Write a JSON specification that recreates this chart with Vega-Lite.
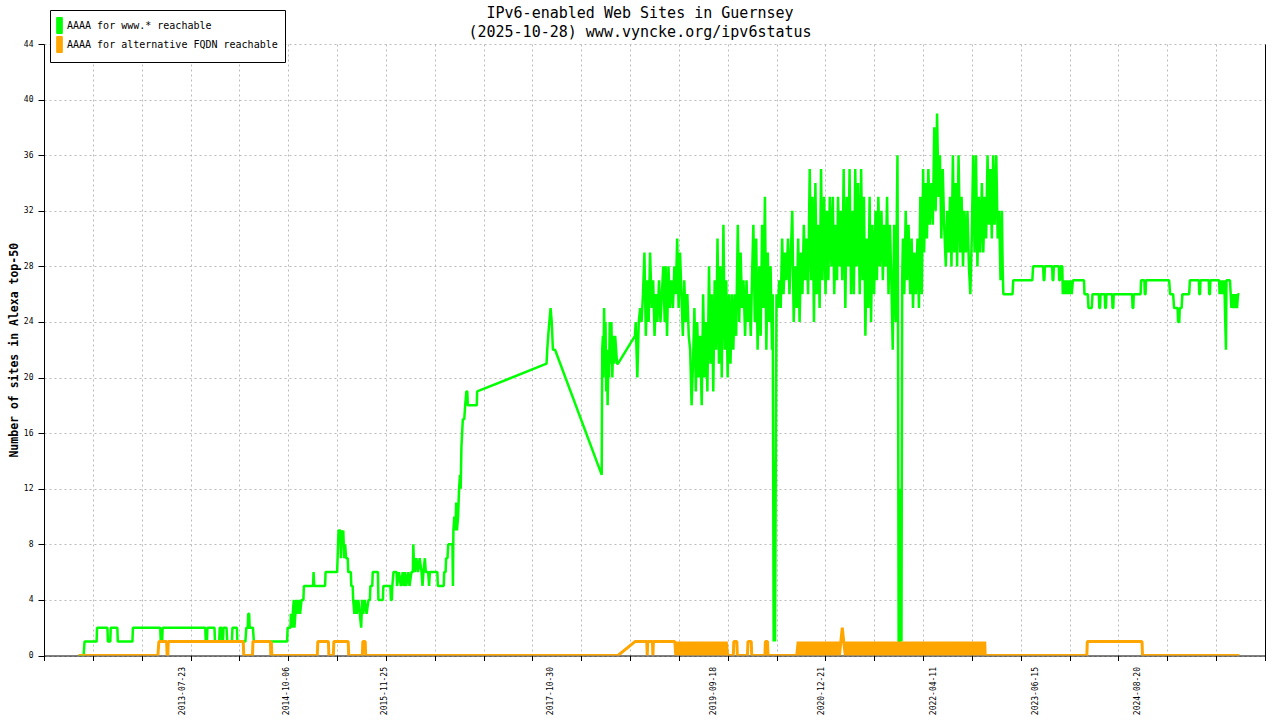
{
"$schema":"https://vega.github.io/schema/vega-lite/v6.json",
"width":1221,"height":611.5,"autosize":"none",
"padding":{"left":44,"top":44,"right":15,"bottom":64.5},
"background":"white",
"title":{"text":["IPv6-enabled Web Sites in Guernsey","(2025-10-28) www.vyncke.org/ipv6status"],"font":"DejaVu Sans Mono","fontSize":15,"fontWeight":"normal","color":"black","anchor":"middle","dx":-14.5,"dy":36,"offset":6,"lineHeight":19},
"config":{"font":"DejaVu Sans Mono","view":{"stroke":null}},
"datasets":{
"www":[
{"d":"2012-05-07","v":0},{"d":"2012-05-28","v":0},{"d":"2012-06-01","v":1},{"d":"2012-07-22","v":1},{"d":"2012-07-24","v":2},{"d":"2012-09-06","v":2},{"d":"2012-09-08","v":1},{"d":"2012-09-18","v":1},{"d":"2012-09-20","v":2},{"d":"2012-10-18","v":2},{"d":"2012-10-20","v":1},{"d":"2012-12-21","v":1},{"d":"2012-12-23","v":2},{"d":"2013-04-18","v":2},{"d":"2013-04-20","v":1},{"d":"2013-04-26","v":1},{"d":"2013-04-28","v":2},{"d":"2013-10-26","v":2},{"d":"2013-10-28","v":1},{"d":"2013-11-02","v":1},{"d":"2013-11-04","v":2},{"d":"2013-12-04","v":2},{"d":"2013-12-06","v":1},{"d":"2013-12-24","v":1},{"d":"2013-12-26","v":2},{"d":"2014-01-03","v":2},{"d":"2014-01-05","v":1},{"d":"2014-01-09","v":1},{"d":"2014-01-11","v":2},{"d":"2014-01-24","v":2},{"d":"2014-01-27","v":1},{"d":"2014-02-16","v":1},{"d":"2014-02-18","v":2},{"d":"2014-03-09","v":2},{"d":"2014-03-11","v":1},{"d":"2014-04-14","v":1},{"d":"2014-04-18","v":2},{"d":"2014-04-24","v":2},{"d":"2014-04-26","v":3},{"d":"2014-04-30","v":3},{"d":"2014-05-02","v":2},{"d":"2014-05-16","v":2},{"d":"2014-05-20","v":1},{"d":"2014-10-08","v":1},{"d":"2014-10-10","v":2},{"d":"2014-10-22","v":2},{"d":"2014-10-24","v":3},{"d":"2014-10-28","v":2},{"d":"2014-11-01","v":3},{"d":"2014-11-05","v":4},{"d":"2014-11-08","v":2},{"d":"2014-11-12","v":3},{"d":"2014-11-16","v":4},{"d":"2014-11-20","v":3},{"d":"2014-11-26","v":4},{"d":"2014-12-02","v":3},{"d":"2014-12-08","v":4},{"d":"2014-12-16","v":4},{"d":"2014-12-18","v":5},{"d":"2015-01-26","v":5},{"d":"2015-01-28","v":6},{"d":"2015-01-31","v":5},{"d":"2015-03-18","v":5},{"d":"2015-03-20","v":6},{"d":"2015-05-08","v":6},{"d":"2015-05-10","v":7},{"d":"2015-05-12","v":8},{"d":"2015-05-14","v":9},{"d":"2015-05-22","v":9},{"d":"2015-05-24","v":7},{"d":"2015-05-27","v":9},{"d":"2015-05-30","v":8},{"d":"2015-06-03","v":9},{"d":"2015-06-07","v":7},{"d":"2015-06-11","v":8},{"d":"2015-06-15","v":7},{"d":"2015-06-22","v":7},{"d":"2015-06-24","v":6},{"d":"2015-07-05","v":6},{"d":"2015-07-07","v":5},{"d":"2015-07-13","v":5},{"d":"2015-07-15","v":4},{"d":"2015-07-20","v":3},{"d":"2015-07-25","v":4},{"d":"2015-07-30","v":3},{"d":"2015-08-06","v":4},{"d":"2015-08-12","v":3},{"d":"2015-08-18","v":2},{"d":"2015-08-22","v":4},{"d":"2015-08-27","v":3},{"d":"2015-09-02","v":4},{"d":"2015-09-10","v":3},{"d":"2015-09-18","v":4},{"d":"2015-09-24","v":4},{"d":"2015-09-26","v":5},{"d":"2015-10-04","v":5},{"d":"2015-10-06","v":6},{"d":"2015-10-28","v":6},{"d":"2015-10-30","v":4},{"d":"2015-11-18","v":4},{"d":"2015-11-20","v":5},{"d":"2015-12-20","v":5},{"d":"2015-12-22","v":4},{"d":"2015-12-26","v":4},{"d":"2015-12-28","v":5},{"d":"2016-01-02","v":6},{"d":"2016-01-15","v":6},{"d":"2016-01-17","v":5},{"d":"2016-01-25","v":6},{"d":"2016-02-02","v":5},{"d":"2016-02-10","v":6},{"d":"2016-02-14","v":5},{"d":"2016-02-20","v":6},{"d":"2016-02-25","v":5},{"d":"2016-03-05","v":6},{"d":"2016-03-10","v":5},{"d":"2016-03-18","v":6},{"d":"2016-03-24","v":6},{"d":"2016-03-26","v":8},{"d":"2016-03-28","v":7},{"d":"2016-04-02","v":6},{"d":"2016-04-08","v":7},{"d":"2016-04-15","v":6},{"d":"2016-04-22","v":7},{"d":"2016-04-30","v":6},{"d":"2016-05-04","v":5},{"d":"2016-05-08","v":6},{"d":"2016-05-14","v":7},{"d":"2016-05-18","v":6},{"d":"2016-05-28","v":6},{"d":"2016-06-01","v":5},{"d":"2016-06-04","v":6},{"d":"2016-07-06","v":6},{"d":"2016-07-08","v":5},{"d":"2016-08-02","v":5},{"d":"2016-08-04","v":6},{"d":"2016-08-10","v":6},{"d":"2016-08-12","v":7},{"d":"2016-08-18","v":7},{"d":"2016-08-21","v":8},{"d":"2016-09-08","v":8},{"d":"2016-09-10","v":5},{"d":"2016-09-12","v":9},{"d":"2016-09-16","v":10},{"d":"2016-09-20","v":9},{"d":"2016-09-24","v":11},{"d":"2016-09-27","v":9},{"d":"2016-10-02","v":10},{"d":"2016-10-06","v":12},{"d":"2016-10-10","v":13},{"d":"2016-10-13","v":12},{"d":"2016-10-16","v":15},{"d":"2016-10-19","v":16},{"d":"2016-10-22","v":17},{"d":"2016-10-28","v":17},{"d":"2016-11-01","v":18},{"d":"2016-11-06","v":19},{"d":"2016-11-10","v":19},{"d":"2016-11-12","v":18},{"d":"2016-12-20","v":18},{"d":"2016-12-22","v":19},{"d":"2017-10-12","v":21},{"d":"2017-10-15","v":22},{"d":"2017-10-19","v":23},{"d":"2017-10-24","v":24},{"d":"2017-10-29","v":25},{"d":"2017-11-03","v":24},{"d":"2017-11-08","v":22},{"d":"2017-11-12","v":22},{"d":"2017-11-17","v":22},{"d":"2018-06-03","v":13},
{"d":"2018-06-05","v":22},{"d":"2018-06-08","v":23},{"d":"2018-06-10","v":20},{"d":"2018-06-13","v":25},{"d":"2018-06-16","v":21},{"d":"2018-06-19","v":24},{"d":"2018-06-22","v":19},{"d":"2018-06-25","v":22},{"d":"2018-06-28","v":18},{"d":"2018-07-01","v":21},{"d":"2018-07-04","v":20},{"d":"2018-07-07","v":24},{"d":"2018-07-10","v":21},{"d":"2018-07-14","v":24},{"d":"2018-07-18","v":20},{"d":"2018-07-22","v":23},{"d":"2018-07-26","v":21},{"d":"2018-07-30","v":23},{"d":"2018-08-03","v":22},{"d":"2018-08-07","v":21},{"d":"2018-08-11","v":21},{"d":"2018-10-22","v":23},{"d":"2018-10-25","v":24},
{"d":"2018-11-01","v":20},{"d":"2018-11-07","v":24},{"d":"2018-11-13","v":25},{"d":"2018-11-19","v":24},{"d":"2018-11-25","v":26},
{"d":"2018-12-01","v":29},{"d":"2018-12-07","v":23},{"d":"2018-12-13","v":27},{"d":"2018-12-19","v":24},{"d":"2018-12-25","v":29},
{"d":"2019-01-01","v":25},{"d":"2019-01-07","v":27},{"d":"2019-01-13","v":23},{"d":"2019-01-19","v":26},{"d":"2019-01-25","v":24},
{"d":"2019-02-01","v":27},{"d":"2019-02-07","v":24},{"d":"2019-02-13","v":26},{"d":"2019-02-19","v":28},{"d":"2019-02-25","v":24},
{"d":"2019-03-01","v":28},{"d":"2019-03-07","v":23},{"d":"2019-03-13","v":28},{"d":"2019-03-19","v":25},{"d":"2019-03-25","v":27},
{"d":"2019-04-01","v":25},{"d":"2019-04-07","v":28},{"d":"2019-04-13","v":26},{"d":"2019-04-19","v":30},{"d":"2019-04-25","v":25},
{"d":"2019-05-01","v":29},{"d":"2019-05-07","v":26},{"d":"2019-05-13","v":23},{"d":"2019-05-19","v":27},{"d":"2019-05-25","v":24},
{"d":"2019-06-01","v":26},{"d":"2019-06-07","v":23},{"d":"2019-06-13","v":22},{"d":"2019-06-19","v":18},{"d":"2019-06-25","v":21},
{"d":"2019-07-01","v":25},{"d":"2019-07-07","v":19},{"d":"2019-07-13","v":24},{"d":"2019-07-19","v":20},{"d":"2019-07-25","v":23},
{"d":"2019-08-01","v":18},{"d":"2019-08-07","v":26},{"d":"2019-08-13","v":20},{"d":"2019-08-19","v":24},{"d":"2019-08-25","v":19},
{"d":"2019-09-01","v":28},{"d":"2019-09-07","v":21},{"d":"2019-09-13","v":26},{"d":"2019-09-19","v":19},{"d":"2019-09-25","v":27},
{"d":"2019-10-01","v":22},{"d":"2019-10-07","v":30},{"d":"2019-10-13","v":21},{"d":"2019-10-19","v":28},{"d":"2019-10-25","v":20},
{"d":"2019-11-01","v":31},{"d":"2019-11-07","v":22},{"d":"2019-11-13","v":27},{"d":"2019-11-19","v":20},{"d":"2019-11-25","v":26},
{"d":"2019-12-01","v":21},{"d":"2019-12-07","v":26},{"d":"2019-12-13","v":22},{"d":"2019-12-19","v":26},{"d":"2019-12-25","v":23},
{"d":"2020-01-01","v":31},{"d":"2020-01-07","v":24},{"d":"2020-01-13","v":29},{"d":"2020-01-19","v":25},{"d":"2020-01-25","v":27},
{"d":"2020-02-01","v":23},{"d":"2020-02-07","v":27},{"d":"2020-02-13","v":24},{"d":"2020-02-19","v":26},{"d":"2020-02-25","v":23},
{"d":"2020-03-01","v":27},{"d":"2020-03-07","v":31},{"d":"2020-03-13","v":24},{"d":"2020-03-19","v":30},{"d":"2020-03-25","v":22},
{"d":"2020-04-01","v":28},{"d":"2020-04-07","v":23},{"d":"2020-04-13","v":31},{"d":"2020-04-19","v":25},{"d":"2020-04-25","v":33},
{"d":"2020-05-01","v":22},{"d":"2020-05-07","v":29},{"d":"2020-05-13","v":24},{"d":"2020-05-19","v":28},{"d":"2020-05-25","v":22},{"d":"2020-05-28","v":26},
{"d":"2020-06-01","v":1},{"d":"2020-06-04","v":14},{"d":"2020-06-07","v":1},{"d":"2020-06-13","v":26},{"d":"2020-06-19","v":25},{"d":"2020-06-25","v":27},
{"d":"2020-07-01","v":25},{"d":"2020-07-07","v":30},{"d":"2020-07-13","v":26},{"d":"2020-07-19","v":29},{"d":"2020-07-25","v":27},
{"d":"2020-08-01","v":30},{"d":"2020-08-07","v":26},{"d":"2020-08-13","v":29},{"d":"2020-08-19","v":32},{"d":"2020-08-25","v":24},
{"d":"2020-09-01","v":28},{"d":"2020-09-07","v":25},{"d":"2020-09-13","v":30},{"d":"2020-09-19","v":24},{"d":"2020-09-25","v":29},
{"d":"2020-10-01","v":26},{"d":"2020-10-07","v":31},{"d":"2020-10-13","v":27},{"d":"2020-10-19","v":30},{"d":"2020-10-25","v":26},
{"d":"2020-11-01","v":35},{"d":"2020-11-07","v":27},{"d":"2020-11-13","v":33},{"d":"2020-11-19","v":24},{"d":"2020-11-25","v":34},
{"d":"2020-12-01","v":26},{"d":"2020-12-07","v":31},{"d":"2020-12-13","v":25},{"d":"2020-12-19","v":35},{"d":"2020-12-25","v":27},
{"d":"2021-01-01","v":33},{"d":"2021-01-07","v":26},{"d":"2021-01-13","v":32},{"d":"2021-01-19","v":27},{"d":"2021-01-25","v":33},
{"d":"2021-02-01","v":28},{"d":"2021-02-07","v":33},{"d":"2021-02-13","v":26},{"d":"2021-02-19","v":31},{"d":"2021-02-25","v":27},
{"d":"2021-03-01","v":33},{"d":"2021-03-07","v":28},{"d":"2021-03-13","v":32},{"d":"2021-03-19","v":27},{"d":"2021-03-25","v":35},
{"d":"2021-04-01","v":25},{"d":"2021-04-07","v":33},{"d":"2021-04-13","v":28},{"d":"2021-04-19","v":35},{"d":"2021-04-25","v":26},
{"d":"2021-05-01","v":32},{"d":"2021-05-07","v":26},{"d":"2021-05-13","v":35},{"d":"2021-05-19","v":28},{"d":"2021-05-25","v":34},
{"d":"2021-06-01","v":26},{"d":"2021-06-07","v":35},{"d":"2021-06-13","v":27},{"d":"2021-06-19","v":33},{"d":"2021-06-25","v":23},
{"d":"2021-07-01","v":30},{"d":"2021-07-07","v":25},{"d":"2021-07-13","v":33},{"d":"2021-07-19","v":24},{"d":"2021-07-25","v":31},
{"d":"2021-08-01","v":26},{"d":"2021-08-07","v":32},{"d":"2021-08-13","v":27},{"d":"2021-08-19","v":33},{"d":"2021-08-25","v":28},
{"d":"2021-09-01","v":32},{"d":"2021-09-07","v":27},{"d":"2021-09-13","v":31},{"d":"2021-09-19","v":28},{"d":"2021-09-25","v":33},
{"d":"2021-10-01","v":26},{"d":"2021-10-07","v":31},{"d":"2021-10-13","v":27},{"d":"2021-10-19","v":22},{"d":"2021-10-25","v":31},
{"d":"2021-11-01","v":24},{"d":"2021-11-05","v":31},{"d":"2021-11-08","v":36},{"d":"2021-11-10","v":26},{"d":"2021-11-13","v":1},{"d":"2021-11-19","v":1},{"d":"2021-11-22","v":12},{"d":"2021-11-25","v":1},{"d":"2021-11-28","v":27},
{"d":"2021-12-01","v":30},{"d":"2021-12-07","v":26},{"d":"2021-12-13","v":32},{"d":"2021-12-19","v":27},{"d":"2021-12-25","v":31},
{"d":"2022-01-01","v":26},{"d":"2022-01-07","v":30},{"d":"2022-01-13","v":25},{"d":"2022-01-19","v":29},{"d":"2022-01-25","v":26},
{"d":"2022-02-01","v":30},{"d":"2022-02-07","v":25},{"d":"2022-02-13","v":33},{"d":"2022-02-19","v":26},{"d":"2022-02-25","v":35},
{"d":"2022-03-01","v":29},{"d":"2022-03-07","v":34},{"d":"2022-03-13","v":30},{"d":"2022-03-19","v":35},{"d":"2022-03-25","v":31},
{"d":"2022-04-01","v":34},{"d":"2022-04-07","v":31},{"d":"2022-04-13","v":38},{"d":"2022-04-19","v":32},{"d":"2022-04-25","v":39},
{"d":"2022-05-01","v":33},{"d":"2022-05-07","v":36},{"d":"2022-05-13","v":30},{"d":"2022-05-19","v":35},{"d":"2022-05-25","v":31},
{"d":"2022-06-01","v":28},{"d":"2022-06-07","v":32},{"d":"2022-06-13","v":29},{"d":"2022-06-19","v":33},{"d":"2022-06-25","v":28},
{"d":"2022-07-01","v":36},{"d":"2022-07-07","v":29},{"d":"2022-07-13","v":34},{"d":"2022-07-19","v":28},{"d":"2022-07-25","v":36},
{"d":"2022-08-01","v":29},{"d":"2022-08-07","v":33},{"d":"2022-08-13","v":28},{"d":"2022-08-19","v":32},{"d":"2022-08-25","v":29},
{"d":"2022-09-01","v":32},{"d":"2022-09-07","v":28},{"d":"2022-09-13","v":26},{"d":"2022-09-19","v":30},{"d":"2022-09-25","v":36},
{"d":"2022-10-01","v":29},{"d":"2022-10-07","v":36},{"d":"2022-10-13","v":28},{"d":"2022-10-19","v":33},{"d":"2022-10-25","v":29},
{"d":"2022-11-01","v":34},{"d":"2022-11-07","v":29},{"d":"2022-11-13","v":33},{"d":"2022-11-19","v":30},{"d":"2022-11-25","v":36},
{"d":"2022-12-01","v":31},{"d":"2022-12-07","v":35},{"d":"2022-12-13","v":30},{"d":"2022-12-19","v":36},{"d":"2022-12-25","v":31},
{"d":"2023-01-01","v":36},{"d":"2023-01-07","v":30},{"d":"2023-01-13","v":32},{"d":"2023-01-19","v":27},{"d":"2023-01-25","v":32},{"d":"2023-01-28","v":28},{"d":"2023-01-31","v":26},
{"d":"2023-03-11","v":26},{"d":"2023-03-14","v":27},{"d":"2023-06-03","v":27},{"d":"2023-06-06","v":28},{"d":"2023-07-19","v":28},{"d":"2023-07-21","v":27},{"d":"2023-07-24","v":27},{"d":"2023-07-26","v":28},{"d":"2023-08-26","v":28},{"d":"2023-08-28","v":27},{"d":"2023-08-31","v":27},{"d":"2023-09-02","v":28},{"d":"2023-09-23","v":28},{"d":"2023-09-25","v":27},{"d":"2023-09-28","v":27},{"d":"2023-09-30","v":28},{"d":"2023-10-08","v":28},{"d":"2023-10-10","v":26},{"d":"2023-10-14","v":27},{"d":"2023-10-18","v":26},{"d":"2023-10-23","v":27},{"d":"2023-10-27","v":26},{"d":"2023-11-01","v":27},{"d":"2023-11-06","v":26},{"d":"2023-11-12","v":27},{"d":"2023-11-17","v":26},{"d":"2023-11-22","v":27},{"d":"2024-01-08","v":27},{"d":"2024-01-10","v":26},{"d":"2024-01-24","v":26},{"d":"2024-01-27","v":25},{"d":"2024-02-10","v":25},{"d":"2024-02-13","v":26},{"d":"2024-03-11","v":26},{"d":"2024-03-13","v":25},{"d":"2024-03-16","v":25},{"d":"2024-03-18","v":26},{"d":"2024-04-05","v":26},{"d":"2024-04-07","v":25},{"d":"2024-04-10","v":25},{"d":"2024-04-12","v":26},{"d":"2024-05-06","v":26},{"d":"2024-05-08","v":25},{"d":"2024-05-11","v":25},{"d":"2024-05-13","v":26},{"d":"2024-07-30","v":26},{"d":"2024-08-01","v":25},{"d":"2024-08-04","v":25},{"d":"2024-08-06","v":26},{"d":"2024-09-04","v":26},{"d":"2024-09-06","v":27},{"d":"2024-09-20","v":27},{"d":"2024-09-22","v":26},{"d":"2024-09-25","v":26},{"d":"2024-09-27","v":27},{"d":"2025-01-03","v":27},{"d":"2025-01-07","v":26},{"d":"2025-01-20","v":26},{"d":"2025-01-24","v":25},{"d":"2025-02-08","v":25},{"d":"2025-02-10","v":24},{"d":"2025-02-15","v":24},{"d":"2025-02-17","v":25},{"d":"2025-02-25","v":25},{"d":"2025-02-28","v":26},{"d":"2025-03-29","v":26},{"d":"2025-04-01","v":27},{"d":"2025-05-09","v":27},{"d":"2025-05-11","v":26},{"d":"2025-05-14","v":26},{"d":"2025-05-16","v":27},{"d":"2025-06-20","v":27},{"d":"2025-06-22","v":26},{"d":"2025-06-25","v":26},{"d":"2025-06-27","v":27},{"d":"2025-08-03","v":27},{"d":"2025-08-05","v":26},{"d":"2025-08-09","v":27},{"d":"2025-08-13","v":26},{"d":"2025-08-17","v":27},{"d":"2025-08-21","v":26},{"d":"2025-08-25","v":27},{"d":"2025-08-29","v":24},{"d":"2025-09-01","v":22},{"d":"2025-09-03","v":27},{"d":"2025-09-18","v":27},{"d":"2025-09-21","v":26},{"d":"2025-09-24","v":25},{"d":"2025-09-28","v":26},{"d":"2025-10-02","v":25},{"d":"2025-10-06","v":26},{"d":"2025-10-10","v":25},{"d":"2025-10-14","v":26},{"d":"2025-10-18","v":25},{"d":"2025-10-22","v":26},{"d":"2025-10-28","v":26}
],
"alt":[
{"d":"2012-05-07","v":0},{"d":"2013-04-08","v":0},{"d":"2013-04-12","v":1},{"d":"2013-05-15","v":1},{"d":"2013-05-17","v":0},{"d":"2013-05-20","v":0},{"d":"2013-05-22","v":1},{"d":"2014-04-05","v":1},{"d":"2014-04-07","v":0},{"d":"2014-05-14","v":0},{"d":"2014-05-16","v":1},{"d":"2014-07-29","v":1},{"d":"2014-07-31","v":0},{"d":"2014-08-02","v":1},{"d":"2014-08-04","v":0},{"d":"2015-02-13","v":0},{"d":"2015-02-15","v":1},{"d":"2015-04-01","v":1},{"d":"2015-04-03","v":0},{"d":"2015-04-22","v":0},{"d":"2015-04-24","v":1},{"d":"2015-06-24","v":1},{"d":"2015-06-26","v":0},{"d":"2015-08-23","v":0},{"d":"2015-08-25","v":1},{"d":"2015-09-04","v":1},{"d":"2015-09-06","v":0},{"d":"2018-08-11","v":0},{"d":"2018-10-22","v":1},{"d":"2018-12-11","v":1},{"d":"2018-12-13","v":0},{"d":"2018-12-15","v":1},{"d":"2019-01-04","v":1},{"d":"2019-01-06","v":0},{"d":"2019-01-08","v":1},{"d":"2019-04-09","v":1},
{"d":"2019-04-13","v":0},{"d":"2019-04-19","v":1},{"d":"2019-04-25","v":0},{"d":"2019-05-01","v":1},{"d":"2019-05-07","v":0},{"d":"2019-05-13","v":1},{"d":"2019-05-19","v":0},{"d":"2019-05-25","v":1},{"d":"2019-06-01","v":0},{"d":"2019-06-07","v":1},{"d":"2019-06-13","v":0},{"d":"2019-06-19","v":1},{"d":"2019-06-25","v":0},{"d":"2019-07-01","v":1},{"d":"2019-07-07","v":0},{"d":"2019-07-13","v":1},{"d":"2019-07-19","v":0},{"d":"2019-07-25","v":1},{"d":"2019-08-01","v":0},{"d":"2019-08-07","v":1},{"d":"2019-08-13","v":0},{"d":"2019-08-19","v":1},{"d":"2019-08-25","v":0},{"d":"2019-09-01","v":1},{"d":"2019-09-07","v":0},{"d":"2019-09-13","v":1},{"d":"2019-09-19","v":0},{"d":"2019-09-25","v":1},{"d":"2019-10-01","v":0},{"d":"2019-10-07","v":1},{"d":"2019-10-13","v":0},{"d":"2019-10-19","v":1},{"d":"2019-10-25","v":0},{"d":"2019-11-01","v":1},{"d":"2019-11-07","v":0},{"d":"2019-11-13","v":1},{"d":"2019-11-19","v":0},
{"d":"2019-12-13","v":0},{"d":"2019-12-15","v":1},{"d":"2019-12-28","v":1},{"d":"2019-12-30","v":0},{"d":"2020-02-11","v":0},{"d":"2020-02-13","v":1},{"d":"2020-02-27","v":1},{"d":"2020-02-29","v":0},{"d":"2020-04-25","v":0},{"d":"2020-04-27","v":1},{"d":"2020-05-06","v":1},{"d":"2020-05-08","v":0},{"d":"2020-09-07","v":0},
{"d":"2020-09-13","v":1},{"d":"2020-09-19","v":0},{"d":"2020-09-25","v":1},
{"d":"2020-10-01","v":0},{"d":"2020-10-07","v":1},{"d":"2020-10-13","v":0},{"d":"2020-10-19","v":1},{"d":"2020-10-25","v":0},
{"d":"2020-11-01","v":1},{"d":"2020-11-07","v":0},{"d":"2020-11-13","v":1},{"d":"2020-11-19","v":0},{"d":"2020-11-25","v":1},
{"d":"2020-12-01","v":0},{"d":"2020-12-07","v":1},{"d":"2020-12-13","v":0},{"d":"2020-12-19","v":1},{"d":"2020-12-25","v":0},
{"d":"2021-01-01","v":1},{"d":"2021-01-07","v":0},{"d":"2021-01-13","v":1},{"d":"2021-01-19","v":0},{"d":"2021-01-25","v":1},
{"d":"2021-02-01","v":0},{"d":"2021-02-07","v":1},{"d":"2021-02-13","v":0},{"d":"2021-02-19","v":1},{"d":"2021-02-25","v":0},
{"d":"2021-03-01","v":1},{"d":"2021-03-07","v":0},{"d":"2021-03-13","v":1},{"d":"2021-03-19","v":2},{"d":"2021-03-25","v":1},
{"d":"2021-04-01","v":0},{"d":"2021-04-07","v":1},{"d":"2021-04-13","v":0},{"d":"2021-04-19","v":1},{"d":"2021-04-25","v":0},
{"d":"2021-05-01","v":1},{"d":"2021-05-07","v":0},{"d":"2021-05-13","v":1},{"d":"2021-05-19","v":0},{"d":"2021-05-25","v":1},
{"d":"2021-06-01","v":0},{"d":"2021-06-07","v":1},{"d":"2021-06-13","v":0},{"d":"2021-06-19","v":1},{"d":"2021-06-25","v":0},
{"d":"2021-07-01","v":1},{"d":"2021-07-07","v":0},{"d":"2021-07-13","v":1},{"d":"2021-07-19","v":0},{"d":"2021-07-25","v":1},
{"d":"2021-08-01","v":0},{"d":"2021-08-07","v":1},{"d":"2021-08-13","v":0},{"d":"2021-08-19","v":1},{"d":"2021-08-25","v":0},
{"d":"2021-09-01","v":1},{"d":"2021-09-07","v":0},{"d":"2021-09-13","v":1},{"d":"2021-09-19","v":0},{"d":"2021-09-25","v":1},
{"d":"2021-10-01","v":0},{"d":"2021-10-07","v":1},{"d":"2021-10-13","v":0},{"d":"2021-10-19","v":1},{"d":"2021-10-25","v":0},
{"d":"2021-11-01","v":1},{"d":"2021-11-07","v":0},{"d":"2021-11-13","v":1},{"d":"2021-11-19","v":0},{"d":"2021-11-25","v":1},
{"d":"2021-12-01","v":0},{"d":"2021-12-07","v":1},{"d":"2021-12-13","v":0},{"d":"2021-12-19","v":1},{"d":"2021-12-25","v":0},
{"d":"2022-01-01","v":1},{"d":"2022-01-07","v":0},{"d":"2022-01-13","v":1},{"d":"2022-01-19","v":0},{"d":"2022-01-25","v":1},
{"d":"2022-02-01","v":0},{"d":"2022-02-07","v":1},{"d":"2022-02-13","v":0},{"d":"2022-02-19","v":1},{"d":"2022-02-25","v":0},
{"d":"2022-03-01","v":1},{"d":"2022-03-07","v":0},{"d":"2022-03-13","v":1},{"d":"2022-03-19","v":0},{"d":"2022-03-25","v":1},
{"d":"2022-04-01","v":0},{"d":"2022-04-07","v":1},{"d":"2022-04-13","v":0},{"d":"2022-04-19","v":1},{"d":"2022-04-25","v":0},
{"d":"2022-05-01","v":1},{"d":"2022-05-07","v":0},{"d":"2022-05-13","v":1},{"d":"2022-05-19","v":0},{"d":"2022-05-25","v":1},
{"d":"2022-06-01","v":0},{"d":"2022-06-07","v":1},{"d":"2022-06-13","v":0},{"d":"2022-06-19","v":1},{"d":"2022-06-25","v":0},
{"d":"2022-07-01","v":1},{"d":"2022-07-07","v":0},{"d":"2022-07-13","v":1},{"d":"2022-07-19","v":0},{"d":"2022-07-25","v":1},
{"d":"2022-08-01","v":0},{"d":"2022-08-07","v":1},{"d":"2022-08-13","v":0},{"d":"2022-08-19","v":1},{"d":"2022-08-25","v":0},
{"d":"2022-09-01","v":1},{"d":"2022-09-07","v":0},{"d":"2022-09-13","v":1},{"d":"2022-09-19","v":0},{"d":"2022-09-25","v":1},
{"d":"2022-10-01","v":0},{"d":"2022-10-07","v":1},{"d":"2022-10-13","v":0},{"d":"2022-10-19","v":1},{"d":"2022-10-25","v":0},
{"d":"2022-11-01","v":1},{"d":"2022-11-07","v":0},{"d":"2022-11-13","v":1},{"d":"2022-11-15","v":0},
{"d":"2024-01-20","v":0},{"d":"2024-01-22","v":1},{"d":"2024-09-10","v":1},{"d":"2024-09-12","v":0},{"d":"2025-10-28","v":0}
]
},
"layer":[
{"data":{"name":"www"},
 "mark":{"type":"line","strokeWidth":2.5,"strokeJoin":"bevel","clip":true},
 "encoding":{
  "x":{"field":"d","type":"temporal","scale":{"type":"utc","domain":[1323648000000,1770984000000]},
   "axis":{"orient":"bottom","values":[1323648000000,1341541440000,1359434880000,1377328320000,1395221760000,1413115200000,1431008640000,1448902080000,1466795520000,1484688960000,1502582400000,1520475840000,1538369280000,1556262720000,1574156160000,1592049600000,1609943040000,1627836480000,1645729920000,1663623360000,1681516800000,1699410240000,1717303680000,1735197120000,1753090560000,1770984000000],
    "labels":false,"ticks":true,"tickSize":5,"tickColor":"black","domain":true,"domainColor":"black","grid":true,"gridColor":"#bbbbbb","gridDash":[2,3],"title":null}},
  "y":{"field":"v","type":"quantitative","scale":{"domain":[0,44],"nice":false,"zero":true},
   "axis":{"orient":"left","values":[0,4,8,12,16,20,24,28,32,36,40,44],"grid":true,"gridColor":"#bbbbbb","gridDash":[2,3],"tickColor":"black","tickSize":6,"domainColor":"black","labelFont":"DejaVu Sans Mono","labelFontSize":8,"labelColor":"black","labelPadding":5,"title":"Number of sites in Alexa top-50","titleFont":"DejaVu Sans Mono","titleFontSize":11.5,"titleFontWeight":"bold","titleColor":"black","titlePadding":4}},
  "color":{"datum":"AAAA for www.* reachable","type":"nominal",
   "scale":{"domain":["AAAA for www.* reachable","AAAA for alternative FQDN reachable"],"range":["#00ff00","#ffa500"]},
   "legend":{"orient":"none","legendX":6,"legendY":-34,"title":null,"labelFont":"DejaVu Sans Mono","labelFontSize":10,"labelColor":"black","labelLimit":400,"symbolType":"M-0.35,-1H0.35V1H-0.35Z","symbolSize":256,"symbolOffset":-6,"symbolStrokeWidth":1,"strokeColor":"black","fillColor":"white","padding":7,"rowPadding":-3,"labelOffset":-1,
    "encode":{"symbols":{"update":{"fill":{"scale":"color","field":"value"},"stroke":{"value":"#222222"},"strokeWidth":{"value":1},"opacity":{"value":1}}}}}}
 }},
{"data":{"name":"alt"},
 "mark":{"type":"line","strokeWidth":3,"strokeJoin":"bevel","clip":true},
 "encoding":{
  "x":{"field":"d","type":"temporal",
   "axis":{"orient":"bottom","values":[{"year":2013,"month":7,"date":23,"utc":true},{"year":2014,"month":10,"date":6,"utc":true},{"year":2015,"month":11,"date":25,"utc":true},{"year":2017,"month":10,"date":30,"utc":true},{"year":2019,"month":9,"date":18,"utc":true},{"year":2020,"month":12,"date":21,"utc":true},{"year":2022,"month":4,"date":11,"utc":true},{"year":2023,"month":6,"date":15,"utc":true},{"year":2024,"month":8,"date":20,"utc":true}],
    "format":"%Y-%m-%d","labelAngle":270,"labelAlign":"right","labelBaseline":"middle","labelFont":"DejaVu Sans Mono","labelFontSize":8,"labelColor":"black","labelPadding":11,"labelOverlap":false,"labelFlush":false,"ticks":false,"tickSize":0,"domain":false,"grid":false,"title":null}},
  "y":{"field":"v","type":"quantitative",
   "axis":{"orient":"right","labels":false,"ticks":false,"grid":false,"domain":true,"domainColor":"black","title":null}},
  "color":{"datum":"AAAA for alternative FQDN reachable","type":"nominal"}
 }}
],
"resolve":{"axis":{"x":"independent","y":"independent"}}
}
